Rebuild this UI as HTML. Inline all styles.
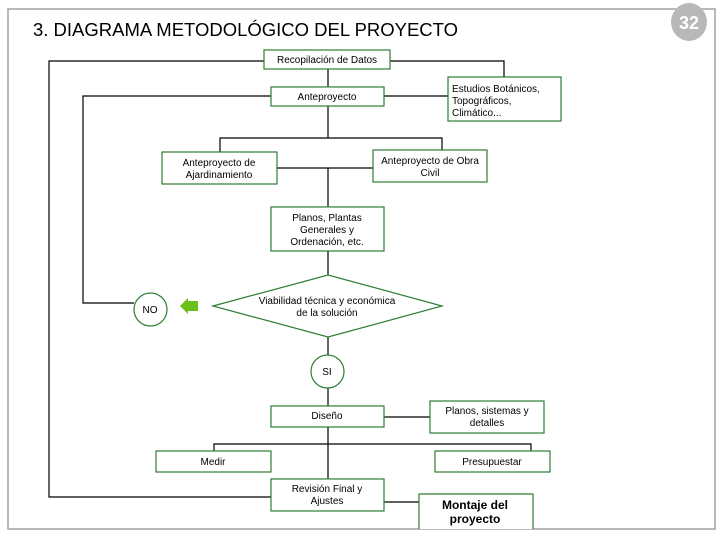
<!DOCTYPE html>
<html><head><meta charset="utf-8"><style>
html,body{margin:0;padding:0;background:#fff;}
svg{display:block;}
text{font-family:"Liberation Sans",Arial,sans-serif;font-size:10px;fill:#000;}
</style></head><body>
<svg width="720" height="540" viewBox="0 0 720 540" xmlns="http://www.w3.org/2000/svg">
<rect x="8" y="9" width="707" height="520" fill="#fff" stroke="#a0a0a0" stroke-width="1.5"/>
<ellipse cx="689" cy="22" rx="18" ry="19" fill="#b8b8b8"/>
<text x="689" y="29" text-anchor="middle" style="font-size:18px;font-weight:bold;fill:#fff">32</text>
<text x="33" y="36" textLength="425" lengthAdjust="spacingAndGlyphs" style="font-size:18px">3.  DIAGRAMA METODOLÓGICO DEL PROYECTO</text>
<g stroke="#000" stroke-width="1.2" fill="none">
<polyline points="264,61 49,61 49,497 271,497"/>
<polyline points="390,61 504,61 504,77"/>
<line x1="328" y1="69" x2="328" y2="87"/>
<polyline points="271,96 83,96 83,303 134,303"/>
<line x1="384" y1="96" x2="448" y2="96"/>
<line x1="328" y1="106" x2="328" y2="138"/>
<polyline points="220,152 220,138 442,138 442,150"/>
<line x1="277" y1="168" x2="373" y2="168"/>
<line x1="328" y1="168" x2="328" y2="207"/>
<line x1="328" y1="251" x2="328" y2="275"/>
<line x1="328" y1="337" x2="328" y2="355"/>
<line x1="328" y1="388" x2="328" y2="406"/>
<line x1="384" y1="417" x2="430" y2="417"/>
<line x1="328" y1="427" x2="328" y2="479"/>
<polyline points="214,451 214,444 531,444 531,451"/>
<line x1="384" y1="502" x2="419" y2="502"/>
</g>
<g stroke="#2e7d32" stroke-width="1.2" fill="#fff">
<rect x="264" y="50" width="126" height="19"/>
<rect x="271" y="87" width="113" height="19"/>
<rect x="448" y="77" width="113" height="44"/>
<rect x="162" y="152" width="115" height="32"/>
<rect x="373" y="150" width="114" height="32"/>
<rect x="271" y="207" width="113" height="44"/>
<polygon points="213,306 328,275 442,306 328,337"/>
<ellipse cx="150.5" cy="309.5" rx="16.5" ry="16.5"/>
<ellipse cx="327.5" cy="371.5" rx="16.5" ry="16.5"/>
<rect x="271" y="406" width="113" height="21"/>
<rect x="430" y="401" width="114" height="32"/>
<rect x="156" y="451" width="115" height="21"/>
<rect x="435" y="451" width="115" height="21"/>
<rect x="271" y="479" width="113" height="32"/>
<polyline points="419,529 419,494 533,494 533,529"/>
</g>
<polygon points="180,306 188,298 188,301 198,301 198,311 188,311 188,314" fill="#6cbf1a"/>
<g text-anchor="middle">
<text x="327" y="63">Recopilación de Datos</text>
<text x="327" y="100">Anteproyecto</text>
<text x="452" y="92" text-anchor="start">Estudios Botánicos,</text>
<text x="452" y="104" text-anchor="start">Topográficos,</text>
<text x="452" y="116" text-anchor="start">Climático...</text>
<text x="219" y="166">Anteproyecto de</text>
<text x="219" y="178">Ajardinamiento</text>
<text x="430" y="164">Anteproyecto de Obra</text>
<text x="430" y="176">Civil</text>
<text x="327" y="221">Planos, Plantas</text>
<text x="327" y="233">Generales y</text>
<text x="327" y="245">Ordenación, etc.</text>
<text x="327" y="304">Viabilidad técnica y económica</text>
<text x="327" y="316">de la solución</text>
<text x="150" y="313">NO</text>
<text x="327" y="375">SI</text>
<text x="327" y="419">Diseño</text>
<text x="487" y="414">Planos, sistemas y</text>
<text x="487" y="426">detalles</text>
<text x="213" y="465">Medir</text>
<text x="492" y="465">Presupuestar</text>
<text x="327" y="492">Revisión Final y</text>
<text x="327" y="504">Ajustes</text>
<text x="475" y="509" style="font-size:12px;font-weight:bold">Montaje del</text>
<text x="475" y="523" style="font-size:12px;font-weight:bold">proyecto</text>
</g>
</svg>
</body></html>
